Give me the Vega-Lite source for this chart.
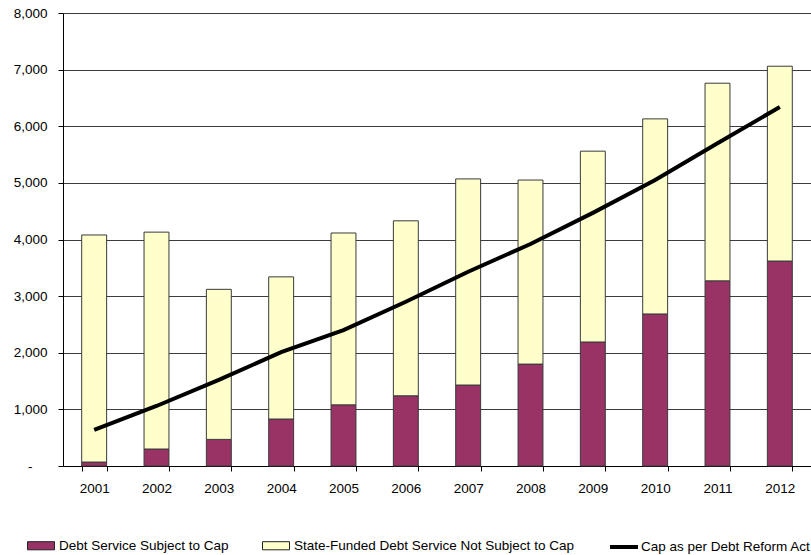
{
  "$schema": "https://vega.github.io/schema/vega-lite/v6.json",
  "width": 748,
  "height": 453,
  "autosize": {"type": "none"},
  "padding": {"left": 63, "top": 13, "right": 0, "bottom": 89},
  "background": "white",
  "config": {
    "font": "Liberation Sans",
    "view": {"stroke": null},
    "axis": {"labelFont": "Liberation Sans", "labelFontSize": 13.5, "labelColor": "black"},
    "legend": {"labelFont": "Liberation Sans", "labelFontSize": 13.5, "labelColor": "black", "labelLimit": 0}
  },
  "datasets": {
    "bars": [
      {"year": "2001", "series": "Debt Service Subject to Cap", "value": 70},
      {"year": "2001", "series": "State-Funded Debt Service Not Subject to Cap", "value": 4010},
      {"year": "2002", "series": "Debt Service Subject to Cap", "value": 300},
      {"year": "2002", "series": "State-Funded Debt Service Not Subject to Cap", "value": 3830},
      {"year": "2003", "series": "Debt Service Subject to Cap", "value": 470},
      {"year": "2003", "series": "State-Funded Debt Service Not Subject to Cap", "value": 2650},
      {"year": "2004", "series": "Debt Service Subject to Cap", "value": 830},
      {"year": "2004", "series": "State-Funded Debt Service Not Subject to Cap", "value": 2510},
      {"year": "2005", "series": "Debt Service Subject to Cap", "value": 1080},
      {"year": "2005", "series": "State-Funded Debt Service Not Subject to Cap", "value": 3035},
      {"year": "2006", "series": "Debt Service Subject to Cap", "value": 1240},
      {"year": "2006", "series": "State-Funded Debt Service Not Subject to Cap", "value": 3090},
      {"year": "2007", "series": "Debt Service Subject to Cap", "value": 1430},
      {"year": "2007", "series": "State-Funded Debt Service Not Subject to Cap", "value": 3640},
      {"year": "2008", "series": "Debt Service Subject to Cap", "value": 1800},
      {"year": "2008", "series": "State-Funded Debt Service Not Subject to Cap", "value": 3250},
      {"year": "2009", "series": "Debt Service Subject to Cap", "value": 2190},
      {"year": "2009", "series": "State-Funded Debt Service Not Subject to Cap", "value": 3370},
      {"year": "2010", "series": "Debt Service Subject to Cap", "value": 2685},
      {"year": "2010", "series": "State-Funded Debt Service Not Subject to Cap", "value": 3445},
      {"year": "2011", "series": "Debt Service Subject to Cap", "value": 3270},
      {"year": "2011", "series": "State-Funded Debt Service Not Subject to Cap", "value": 3490},
      {"year": "2012", "series": "Debt Service Subject to Cap", "value": 3620},
      {"year": "2012", "series": "State-Funded Debt Service Not Subject to Cap", "value": 3440}
    ],
    "cap": [
      {"year": "2001", "cap": 636},
      {"year": "2002", "cap": 1060},
      {"year": "2003", "cap": 1520},
      {"year": "2004", "cap": 2010},
      {"year": "2005", "cap": 2400},
      {"year": "2006", "cap": 2900},
      {"year": "2007", "cap": 3430},
      {"year": "2008", "cap": 3920},
      {"year": "2009", "cap": 4470},
      {"year": "2010", "cap": 5050},
      {"year": "2011", "cap": 5700},
      {"year": "2012", "cap": 6340}
    ]
  },
  "encoding": {
    "x": {
      "field": "year", "type": "nominal", "title": null,
      "scale": {"paddingInner": 0.6, "paddingOuter": 0.3},
      "axis": {"labelAngle": 0, "tickBand": "extent", "tickSize": 5, "tickColor": "black", "domainColor": "black", "labelPadding": 10, "grid": false}
    }
  },
  "layer": [
    {
      "data": {"name": "bars"},
      "mark": {"type": "bar", "stroke": "#3a3a3a", "strokeWidth": 1},
      "encoding": {
        "y": {
          "field": "value", "type": "quantitative", "stack": "zero", "title": null,
          "scale": {"domain": [0, 8000], "nice": false},
          "axis": {
            "orient": "left",
            "values": [0, 1000, 2000, 3000, 4000, 5000, 6000, 7000, 8000],
            "labelExpr": "datum.value == 0 ? '' : format(datum.value, ',')",
            "labelPadding": 11,
            "tickSize": 5, "tickColor": "black", "domainColor": "black",
            "grid": true, "gridColor": "#3c3c3c", "gridWidth": 1
          }
        },
        "fill": {
          "field": "series", "type": "nominal",
          "scale": {"domain": ["Debt Service Subject to Cap", "State-Funded Debt Service Not Subject to Cap"], "range": ["#993366", "#FFFFCC"]},
          "legend": {
            "title": null, "orient": "none", "direction": "horizontal",
            "legendX": -36, "legendY": 518.5,
            "symbolType": "M-1,-0.3L1,-0.3L1,0.3L-1,0.3Z",
            "symbolSize": 729, "symbolStrokeColor": "#222", "symbolStrokeWidth": 1,
            "labelOffset": 4, "columnPadding": 31
          }
        },
        "order": {"field": "series", "sort": "ascending"}
      }
    },
    {
      "data": {"name": "cap"},
      "mark": {"type": "line", "strokeWidth": 4},
      "encoding": {
        "y": {
          "field": "cap", "type": "quantitative", "title": null,
          "axis": {
            "orient": "left",
            "values": [0],
            "labelExpr": "'-'",
            "offset": 21,
            "labelPadding": 10,
            "ticks": false, "domain": false, "grid": false
          }
        },
        "stroke": {
          "datum": "Cap as per Debt Reform Act",
          "scale": {"range": ["black"]},
          "legend": {
            "title": null, "orient": "none",
            "legendX": 545, "legendY": 518,
            "symbolType": "stroke", "symbolSize": 784, "symbolStrokeWidth": 4,
            "labelOffset": 1
          }
        }
      }
    }
  ],
  "resolve": {"axis": {"y": "independent"}}
}
